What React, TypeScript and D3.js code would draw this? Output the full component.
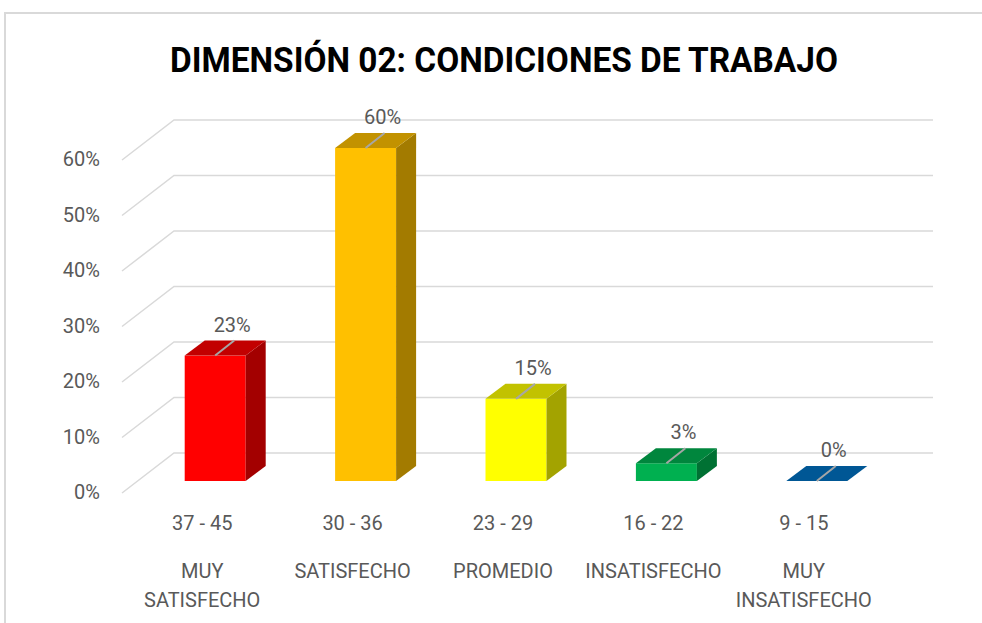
import React from 'react';
import * as d3 from 'd3';

const ranges = ['37 - 45', '30 - 36', '23 - 29', '16 - 22', '9 - 15'];
const levels = [['MUY', 'SATISFECHO'], ['SATISFECHO'], ['PROMEDIO'], ['INSATISFECHO'], ['MUY', 'INSATISFECHO']];
const values = [0.226, 0.6, 0.148, 0.032, 0];
const ticks = [0, 0.1, 0.2, 0.3, 0.4, 0.5, 0.6];
const title = 'DIMENSIÓN 02: CONDICIONES DE TRABAJO';
const frontColors = ['#FF0000', '#FFC000', '#FFFF00', '#00B050', '#0072C4'];

const W = 982, H = 623;
const FONT = 'Roboto, "Noto Sans", sans-serif';
const TXT = '#595959';

function shade(c: string, k: number) {
  const r = d3.rgb(c);
  return d3.rgb(r.r * k, r.g * k, r.b * k).formatHex();
}

export default function App() {
  const x = d3.scaleBand<string>().domain(ranges).range([140, 892]).padding(0);
  const yBack = d3.scaleLinear().domain([0, 0.6]).range([453, 120]);
  const yFront = d3.scaleLinear().domain([0, 0.6]).range([481, 148]);
  const fmt = d3.format('.0%');
  const wallDx = 52, wallDy = 40;
  const barW = 61, dDx = 20, dDy = 15;
  const backRight = 933, backLeft = 174;

  return (
    <svg width={W} height={H} style={{ position: 'absolute', left: 0, top: 0, background: '#fff' }}>
      <rect x={0} y={0} width={W} height={H} fill="#fff" />
      <path d={`M5,${H} L5,13 L${W},13`} fill="none" stroke="#D9D9D9" strokeWidth={2} />
      <text x={504} y={72} textAnchor="middle" fontFamily={FONT} fontWeight={700} fontSize={35}
        textLength={668} lengthAdjust="spacingAndGlyphs" fill="#000">{title}</text>

      {ticks.map(t => {
        const yb = yBack(t);
        return (
          <g key={t}>
            <polyline points={`${backLeft - wallDx},${yb + wallDy} ${backLeft},${yb} ${backRight},${yb}`}
              fill="none" stroke="#D9D9D9" strokeWidth={1.5} />
            <text x={100} y={yb + wallDy - 1} textAnchor="end" dominantBaseline="central"
              fontFamily={FONT} fontSize={20} fill={TXT}>{fmt(t)}</text>
          </g>
        );
      })}

      {ranges.map((c, i) => {
        const cx = (x(c) as number) + x.bandwidth() / 2;
        const l = cx - barW / 2, r = cx + barW / 2;
        const top = yFront(values[i]);
        const base = yFront(0);
        const fc = frontColors[i];
        return (
          <g key={c}>
            {values[i] > 0 && <rect x={l} y={top} width={barW} height={base - top} fill={fc} />}
            {values[i] > 0 && (
              <polygon points={`${r},${top} ${r + dDx},${top - dDy} ${r + dDx},${base - dDy} ${r},${base}`}
                fill={shade(fc, 0.64)} />
            )}
            <polygon points={`${l},${top} ${r},${top} ${r + dDx},${top - dDy} ${l + dDx},${top - dDy}`}
              fill={shade(fc, 0.76)} />
            <line x1={cx} y1={top} x2={cx + dDx - 1} y2={top - dDy} stroke="#A6A6A6" strokeWidth={2} />
            <text x={cx + 17} y={top - dDy - 9} textAnchor="middle" fontFamily={FONT} fontSize={20}
              fill={TXT}>{fmt(Math.round(values[i] * 100) / 100)}</text>
          </g>
        );
      })}

      {ranges.map((c, i) => {
        const cx = (x(c) as number) + x.bandwidth() / 2 - 13;
        return (
          <g key={'l' + c} fontFamily={FONT} fontSize={20} fill={TXT} textAnchor="middle">
            <text x={cx} y={523} dominantBaseline="central">{c}</text>
            {levels[i].map((s, j) => (
              <text key={j} x={cx} y={571 + j * 29} dominantBaseline="central">{s}</text>
            ))}
          </g>
        );
      })}
    </svg>
  );
}
